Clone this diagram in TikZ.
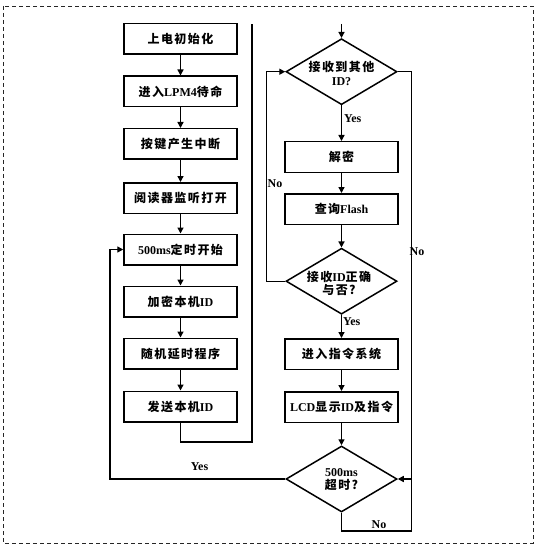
\documentclass[tikz,border=0pt]{standalone}
\usepackage{fontspec}
\setmainfont{Liberation Serif}
\newfontfamily\cjk{Noto Sans CJK SC}[LetterSpace=12]
\usetikzlibrary{arrows.meta,shapes.geometric}
\newcommand{\zhtxt}[1]{{\cjk #1}}
\begin{document}
\begin{tikzpicture}[x=1pt,y=-1pt,
  every node/.style={font=\fontsize{12}{13.5}\selectfont\bfseries},
  box/.style={draw,line width=1.5pt,minimum width=113pt,minimum height=30.5pt,inner sep=0pt},
  dia/.style={draw,diamond,line width=1.5pt,minimum width=111pt,minimum height=66pt,inner sep=0pt},
  dtext/.style={align=center,inner sep=0pt},
  con/.style={line width=1.4pt},
  arr/.style={con,-{Triangle[length=6pt,width=6pt]}},
  lbl/.style={inner sep=0pt}]
\useasboundingbox (0,0) rectangle (539,556);
\draw[line width=0.8pt,black!85,dash pattern=on 4pt off 3pt] (3,6) rectangle (533,543);

% left column
\node[box] (b1) at (180.5,39)    {\zhtxt{上电初始化}};
\node[box] (b2) at (180.5,91.5)  {\zhtxt{进入}LPM4\zhtxt{待命}};
\node[box] (b3) at (180.5,144)   {\zhtxt{按键产生中断}};
\node[box] (b4) at (180.5,198)   {\zhtxt{阅读器监听打开}};
\node[box] (b5) at (180.5,249.5) {500ms\zhtxt{定时开始}};
\node[box] (b6) at (180.5,301.5) {\zhtxt{加密本机}ID};
\node[box] (b7) at (180.5,353.5) {\zhtxt{随机延时程序}};
\node[box] (b8) at (180.5,406.5) {\zhtxt{发送本机}ID};

% right column
\node[dia] (d1) at (341.5,71.7) {};
\node[dtext] (d1t) at (341.5,73.5) {\zhtxt{接收到其他}\\ID?};
\node[box] (s1) at (341.5,157)   {\zhtxt{解密}};
\node[box] (s2) at (341.5,209)   {\zhtxt{查询}Flash};
\node[dia] (d2) at (341.5,281.2) {};
\node[dtext] (d2t) at (339,283.5) {\zhtxt{接收}ID\zhtxt{正确}\\\zhtxt{与否?}};
\node[box] (s3) at (341.5,354)   {\zhtxt{进入指令系统}};
\node[box] (s4) at (341.5,407)   {LCD\zhtxt{显示}ID\zhtxt{及指令}};
\node[dia] (d3) at (341.5,479)   {};
\node[dtext] (d3t) at (341.5,479.5) {500ms\\\zhtxt{超时?}};

% coordinates
\coordinate (ltop) at (252,24);
\coordinate (lbot) at (252,442);
\coordinate (rtop) at (341.5,24);
\coordinate (rcol) at (411.5,479);
\coordinate (rbot) at (411.5,531);
\coordinate (lcol) at (110,479);

% left connectors
\foreach \a/\b in {b1/b2,b2/b3,b3/b4,b4/b5,b5/b6,b6/b7,b7/b8}
  \draw[arr] (\a) -- (\b);
\draw[con] (b8.south) |- (lbot) -- (ltop);

% right connectors
\draw[arr] (rtop) -- (d1.north);
\draw[arr] (d1.south) -- (s1.north);
\draw[arr] (s1) -- (s2);
\draw[arr] (s2.south) -- (d2.north);
\draw[arr] (d2.west) -- ++(-19,0) |- (d1.west);
\draw[arr] (d1.east) -| (rcol) -- (d3.east);
\draw[arr] (d2.south) -- (s3.north);
\draw[arr] (s3) -- (s4);
\draw[arr] (s4.south) -- (d3.north);
\draw[con] (d3.south) |- (rbot) -- (rcol);
\draw[arr] (d3.west) -- (lcol) |- (b5.west);

% labels
\node[lbl] (y1) at (352.7,119) {Yes};
\node[lbl] (y2) at (351.7,321.7) {Yes};
\node[lbl] (y3) at (199.5,467) {Yes};
\node[lbl] (n1) at (275,184) {No};
\node[lbl] (n2) at (417,251.5) {No};
\node[lbl] (n3) at (379,525) {No};
\end{tikzpicture}
\end{document}
